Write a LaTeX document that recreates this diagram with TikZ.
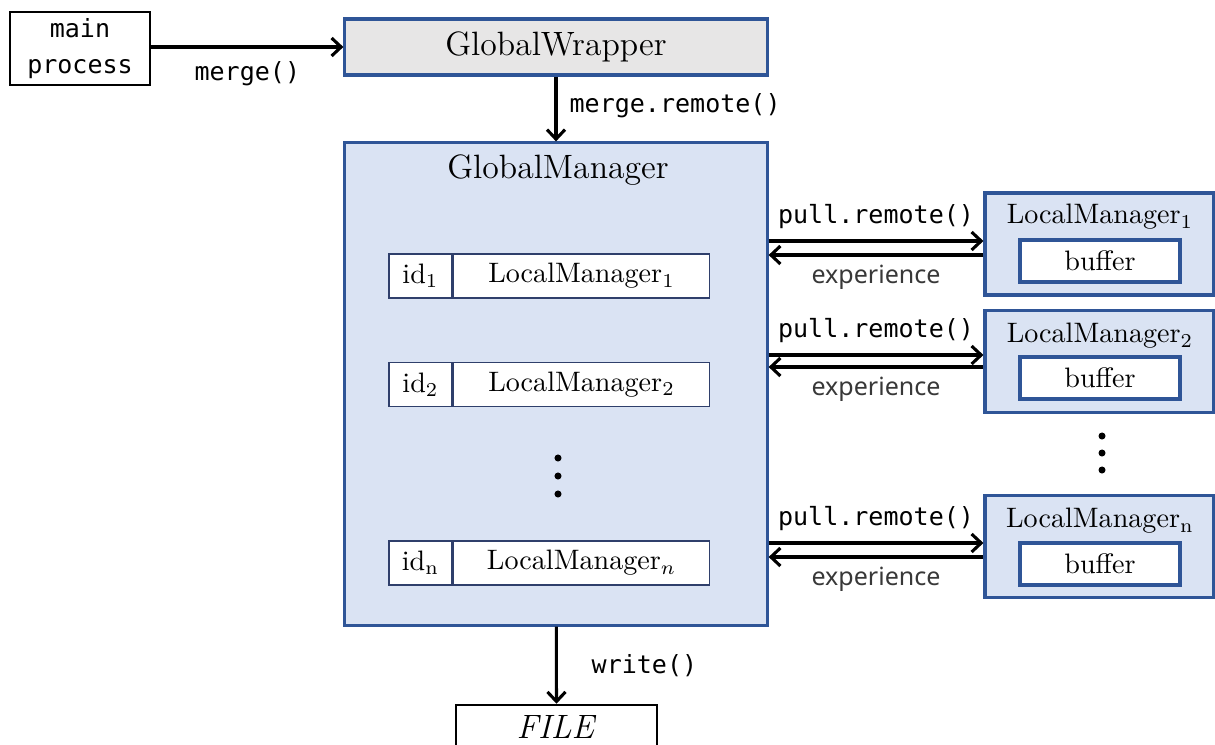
\documentclass[tikz,border=0pt]{standalone}
\usepackage{fontspec}
\usepackage{tikz}
\usetikzlibrary{positioning,calc,arrows.meta}
\newfontfamily\codefont{DejaVu Sans Mono}
\newfontfamily\labelfont{Noto Sans}
\definecolor{rayblue}{HTML}{2F5597}
\definecolor{rayfill}{HTML}{DAE3F3}
\definecolor{raygray}{HTML}{E7E6E6}
\definecolor{raynavy}{HTML}{2F3F6B}

\begin{document}
\begin{tikzpicture}[x=0.0125cm,y=-0.0125cm]
\tikzset{every node/.style={inner sep=0pt}}
\tikzset{plainbox/.style={draw=black,line width=0.9pt,fill=white}}
\tikzset{bluebox/.style={draw=rayblue,line width=1.1pt,fill=rayfill}}
\tikzset{entrybox/.style={draw=raynavy,line width=0.55pt,fill=white,minimum height=0.55cm}}
\tikzset{title/.style={font=\fontsize{12}{14}\selectfont}}
\tikzset{code/.style={font=\codefont\fontsize{8.9}{12.8}\selectfont}}
\tikzset{msg/.style={font=\labelfont\fontsize{8.9}{11}\selectfont,text=black!78}}
\tikzset{flow/.style={line width=1.1pt,-{Straight Barb[length=3.4pt,width=6.4pt]}}}
\useasboundingbox (0,0) rectangle (1215,744);

\node[plainbox,minimum width=1.75cm,minimum height=0.9125cm,code,align=center] (main) at (80,48.5) {main\\process};
\node[bluebox,fill=raygray,minimum width=5.275cm,minimum height=0.7cm,title] (wrapper) at (556,47) {GlobalWrapper};
\node[bluebox,minimum width=5.275cm,minimum height=6.025cm] (manager) at (556,384) {};
\node[title] (managertitle) at (558,170) {GlobalManager};

% table of local managers
\node[entrybox,minimum width=0.7875cm] (id1) at (420.5,276) {id$_1$};
\node[entrybox,minimum width=3.2cm,right=0pt of id1] (entry1) {LocalManager$_1$};
\node[entrybox,minimum width=0.7875cm] (id2) at (420.5,384.5) {id$_2$};
\node[entrybox,minimum width=3.2cm,right=0pt of id2] (entry2) {LocalManager$_2$};
\node[entrybox,minimum width=0.7875cm] (idn) at (420.5,563) {id$_\mathrm{n}$};
\node[entrybox,minimum width=3.2cm,right=0pt of idn] (entryn) {LocalManager$_n$};
\foreach \y in {458,476,494} \fill (558,\y) circle (1.25pt);

\node[plainbox,minimum width=2.5125cm,minimum height=0.55cm,title] (file) at (556.5,727) {\textit{FILE}};

% workers
\foreach \k/\y/\ty/\by in {1/244/217/261, 2/361.5/336/378, n/546.5/521/564} {
  \node[bluebox,minimum width=2.85cm,minimum height=1.275cm] (local\k) at (1099,\y) {};
  \node (local\k title) at (1100,\ty) {LocalManager$_\mathrm{\k}$};
  \node[bluebox,fill=white,minimum width=2cm,minimum height=0.525cm] (buffer\k) at (1100,\by) {buffer};
}
\foreach \y in {436,453,470} \fill (1102,\y) circle (1.25pt);

\draw[flow] (main.east |- wrapper) -- (wrapper) node[code,below=4.5pt,midway] {merge()};
\draw[flow] (wrapper) -- (manager) node[code,right=4.3pt,pos=0.45] {merge.remote()};
\draw[flow] (manager) -- (file) node[code,right=12pt,midway] {write()};
\foreach \k/\a/\b in {1/-3/11, 2/-6.5/5.5, n/-3.5/10.5} {
  \coordinate (pull\k) at ($(local\k.west)+(0,\a)$);
  \coordinate (back\k) at ($(local\k.west)+(0,\b)$);
  \draw[flow] (pull\k -| manager.east) -- (pull\k) node[code,above=4pt,midway] {pull.remote()};
  \draw[flow] (back\k) -- (back\k -| manager.east) node[msg,below=3pt,midway] {experience};
}
\end{tikzpicture}
\end{document}
